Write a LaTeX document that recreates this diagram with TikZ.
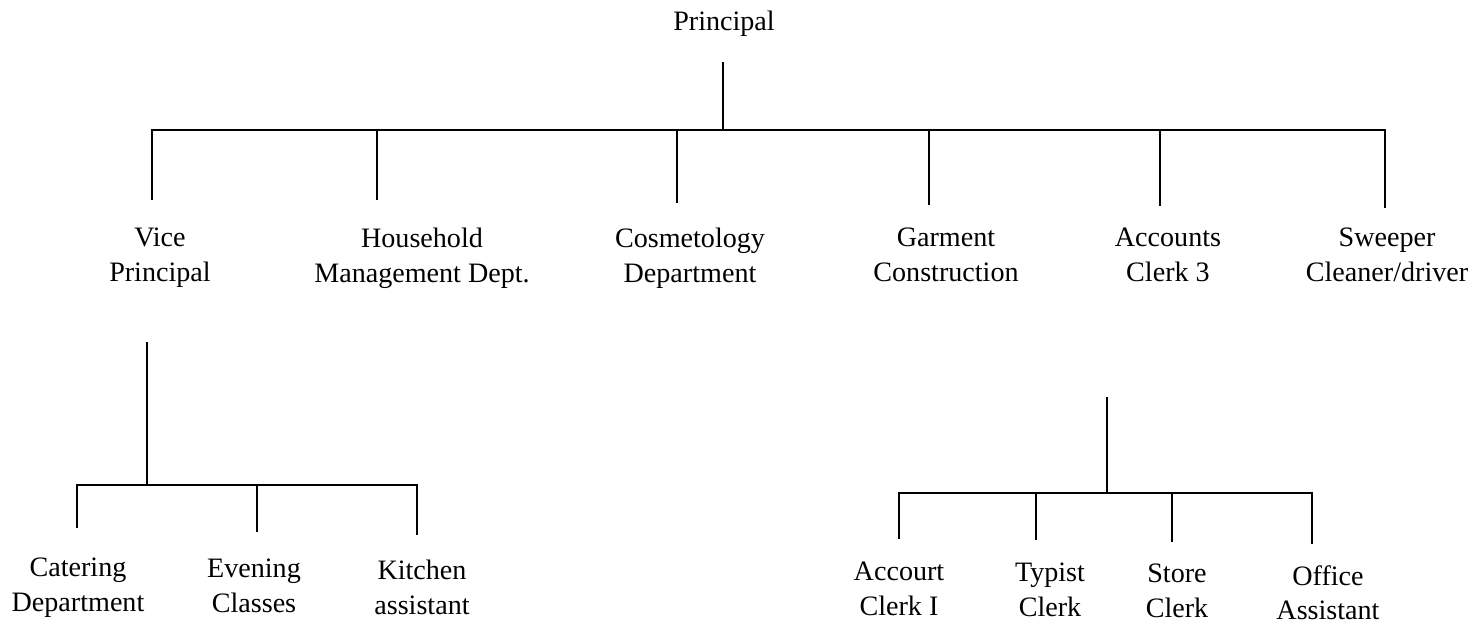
\documentclass[tikz,border=0pt]{standalone}
\usepackage{fontspec}
\setmainfont{Liberation Serif}
\usepackage{tikz}
\tikzstyle{NodeChart}=[align=center,inner sep=0pt,anchor=north,execute at begin node={\strut},
font=\fontsize{16}{19.5}\selectfont]
\tikzstyle{EdgeChart}=[black,line width=.7pt]
\tikzstyle{BarChart}=[black,line width=1.3pt,line cap=rect]

\begin{document}
\begin{tikzpicture}[x=.02cm,y=-.02cm]
        \useasboundingbox(0,0)rectangle(1477,629);
        % top level
        \node[NodeChart](princ)at(724,6){Principal};
        \coordinate(pTop)at(723,62);
        \coordinate(pBar)at(723,130);
        \coordinate(barL)at(152,130);
        \coordinate(barR)at(1385,130);
        \draw[EdgeChart](pTop)--(pBar);
        \draw[BarChart](barL)--(barR);
        % second level
        \node[NodeChart](vice)at(160,228){Vice\\Principal};
        \node[NodeChart](house)at(422,228){Household\\Management Dept.};
        \node[NodeChart](cosm)at(690,228){Cosmetology\\Department};
        \node[NodeChart](garm)at(946,228){Garment\\Construction};
        \node[NodeChart](acc)at(1168,228){Accounts\\Clerk 3};
        \node[NodeChart](sweep)at(1387,228){Sweeper\\Cleaner/driver};
        \coordinate(d1)at(152,200);
        \coordinate(d2)at(377,200);
        \coordinate(d3)at(677,203);
        \coordinate(d4)at(929,205);
        \coordinate(d5)at(1160,206);
        \coordinate(d6)at(1385,208);
        \draw[EdgeChart](barL)--(d1);
        \draw[EdgeChart](377,130)--(d2);
        \draw[EdgeChart](677,130)--(d3);
        \draw[EdgeChart](929,130)--(d4);
        \draw[EdgeChart](1160,130)--(d5);
        \draw[EdgeChart](barR)--(d6);
        % under the vice principal
        \coordinate(vTop)at(147,342);
        \coordinate(vBar)at(147,485);
        \coordinate(vL)at(77,485);
        \coordinate(vR)at(417,485);
        \draw[EdgeChart](vTop)--(vBar);
        \draw[BarChart](vL)--(vR);
        \node[NodeChart](cater)at(78,558){Catering\\Department};
        \node[NodeChart](even)at(254,559){Evening\\Classes};
        \node[NodeChart](kitch)at(422,560){Kitchen\\assistant};
        \coordinate(e1)at(77,528);
        \coordinate(e2)at(257,532);
        \coordinate(e3)at(417,535);
        \draw[EdgeChart](vL)--(e1);
        \draw[EdgeChart](257,485)--(e2);
        \draw[EdgeChart](vR)--(e3);
        % under the accounts clerk
        \coordinate(aTop)at(1107,397);
        \coordinate(aBar)at(1107,493);
        \coordinate(aL)at(899,493);
        \coordinate(aR)at(1312,493);
        \draw[EdgeChart](aTop)--(aBar);
        \draw[BarChart](aL)--(aR);
        \node[NodeChart](acc1)at(899,562){Accourt\\Clerk I};
        \node[NodeChart](typ)at(1050,563){Typist\\Clerk};
        \node[NodeChart](store)at(1177,564){Store\\Clerk};
        \node[NodeChart](off)at(1328,565){Office\\Assistant};
        \coordinate(f1)at(899,539);
        \coordinate(f2)at(1036,540);
        \coordinate(f3)at(1172,542);
        \coordinate(f4)at(1312,544);
        \draw[EdgeChart](aL)--(f1);
        \draw[EdgeChart](1036,493)--(f2);
        \draw[EdgeChart](1172,493)--(f3);
        \draw[EdgeChart](aR)--(f4);
    \end{tikzpicture}
\end{document}
